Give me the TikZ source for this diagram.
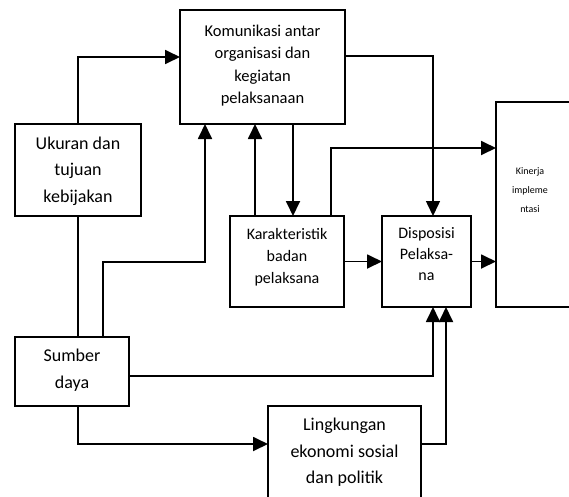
\documentclass[tikz,border=0pt]{standalone}
\usepackage{fontspec}
\setmainfont{Carlito}
\usetikzlibrary{arrows.meta}
\begin{document}
\begin{tikzpicture}[x=1pt,y=-1pt,
  box/.style={draw,line width=1.3pt,inner sep=0pt,outer sep=0pt},
  conn/.style={line width=1.8pt,-{Triangle[length=15pt,width=14pt]}},
  plain/.style={line width=1.8pt},
  txtL/.style={align=center,inner sep=0pt,font=\fontsize{18}{26.5}\selectfont},
  txtM/.style={align=center,inner sep=0pt,font=\fontsize{16.5}{22.5}\selectfont},
  txtS/.style={align=center,inner sep=0pt,font=\fontsize{10}{19}\selectfont}]
\useasboundingbox (0,0) rectangle (569,496);
% boxes
\node[box,minimum width=165pt,minimum height=114pt] (kom) at (262.5,67) {};
\node[box,minimum width=126pt,minimum height=92pt] (uk) at (78,170) {};
\node[box,minimum width=114pt,minimum height=91pt] (kar) at (287,261.5) {};
\node[box,minimum width=89pt,minimum height=91pt] (dis) at (426.5,261.5) {};
\node[box,minimum width=90pt,minimum height=205pt] (kin) at (541,204.5) {};
\node[box,minimum width=114pt,minimum height=69pt] (sum) at (72,371.5) {};
\node[box,minimum width=153pt,minimum height=110pt] (lin) at (344.5,461) {};
% texts
\node[txtM] (tkom) at (262.5,65.5) {Komunikasi antar\\organisasi dan\\kegiatan\\pelaksanaan};
\node[txtL] (tuk) at (78,171) {Ukuran dan\\tujuan\\kebijakan};
\node[txtM,font=\fontsize{16}{22}\selectfont] (tkar) at (287,257) {Karakteristik\\badan\\pelaksana};
\node[txtM,font=\fontsize{16}{21}\selectfont] (tdis) at (426.5,254) {Disposisi\\Pelaksa-\\na};
\node[txtS] (tkin) at (530,190) {Kinerja\\impleme\\ntasi};
\node[txtL] (tsum) at (72,370) {Sumber\\daya};
\node[txtL] (tlin) at (344.5,452.5) {Lingkungan\\ekonomi sosial\\dan politik};
% connectors
\draw[conn] (uk.north) |- (kom.west |- 0,57);
\draw[plain] (uk.south) -- (uk.south |- sum.north);
\draw[conn] (103,0 |- sum.north) -- (103,262) -- (205,262) -- (205,0 |- kom.south);
\draw[conn] (255,0 |- kar.north) -- (255,0 |- kom.south);
\draw[conn] (293,0 |- kom.south) -- (293,0 |- kar.north);
\draw[conn] (331,0 |- kar.north) |- (kin.west |- 0,148);
\draw[conn,line width=1.5pt] (kom.east |- 0,56) -| (433,0 |- dis.north);
\draw[conn] (kar.east) -- (dis.west);
\draw[conn] (dis.east) -- (dis.east -| kin.west);
\draw[conn] (sum.east |- 0,376) -| (433,0 |- dis.south);
\draw[conn] (78,0 |- sum.south) |- (lin.west |- 0,444);
\draw[conn] (lin.east |- 0,444) -| (446,0 |- dis.south);
\end{tikzpicture}
\end{document}
